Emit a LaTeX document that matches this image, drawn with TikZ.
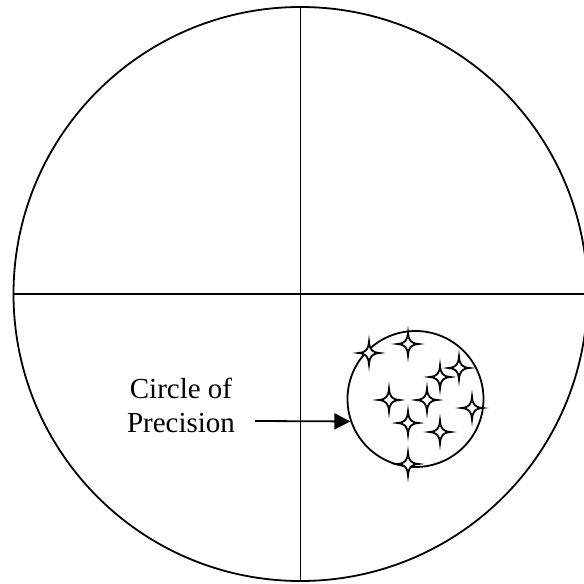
\documentclass[tikz,border=0pt]{standalone}
\usepackage{fontspec}
\setmainfont{Liberation Serif}
\usetikzlibrary{arrows.meta}
\tikzset{
  ln/.style={line width=1.8pt},
  sparkle/.pic={
    \path[draw=black, fill=white, line width=1.8pt, line join=miter]
      (0,11.5) .. controls (0.8,3) and (3,0.8) .. (10.5,0)
      .. controls (3,-0.8) and (0.8,-3) .. (0,-11.5)
      .. controls (-0.8,-3) and (-3,-0.8) .. (-10.5,0)
      .. controls (-3,0.8) and (-0.8,3) .. cycle;
  },
  lbl/.style={font=\fontsize{29}{34}\selectfont, align=center, inner sep=0pt},
}
\begin{document}
\begin{tikzpicture}[x=1pt,y=-1pt]
\useasboundingbox (0,0) rectangle (584,584);
\node[ln, draw, circle, minimum size=574pt, inner sep=0pt] (big) at (300.5,294) {};
\coordinate (L) at (13,294);
\coordinate (R) at (588,294);
\coordinate (T) at (300.5,7);
\coordinate (B) at (300.5,581);
\draw[ln] (L) -- (R);
\draw[ln] (T) -- (B);
\node[ln, draw, circle, minimum size=136pt, inner sep=0pt] (small) at (415.5,399) {};
\foreach \p [count=\i] in {(369,353),(408,344),(459,368),(440,377),(389,400),(427,400),(472,408),(408,423),(440,432),(408,464)}
  \pic (s\i) at \p {sparkle};
\node[lbl] (txt) at (181,405) {Circle of\\Precision};
\coordinate (a0) at (255,421);
\draw[ln, -{Triangle[length=16pt,width=16pt]}] (a0) -- (small.199);
\end{tikzpicture}
\end{document}
